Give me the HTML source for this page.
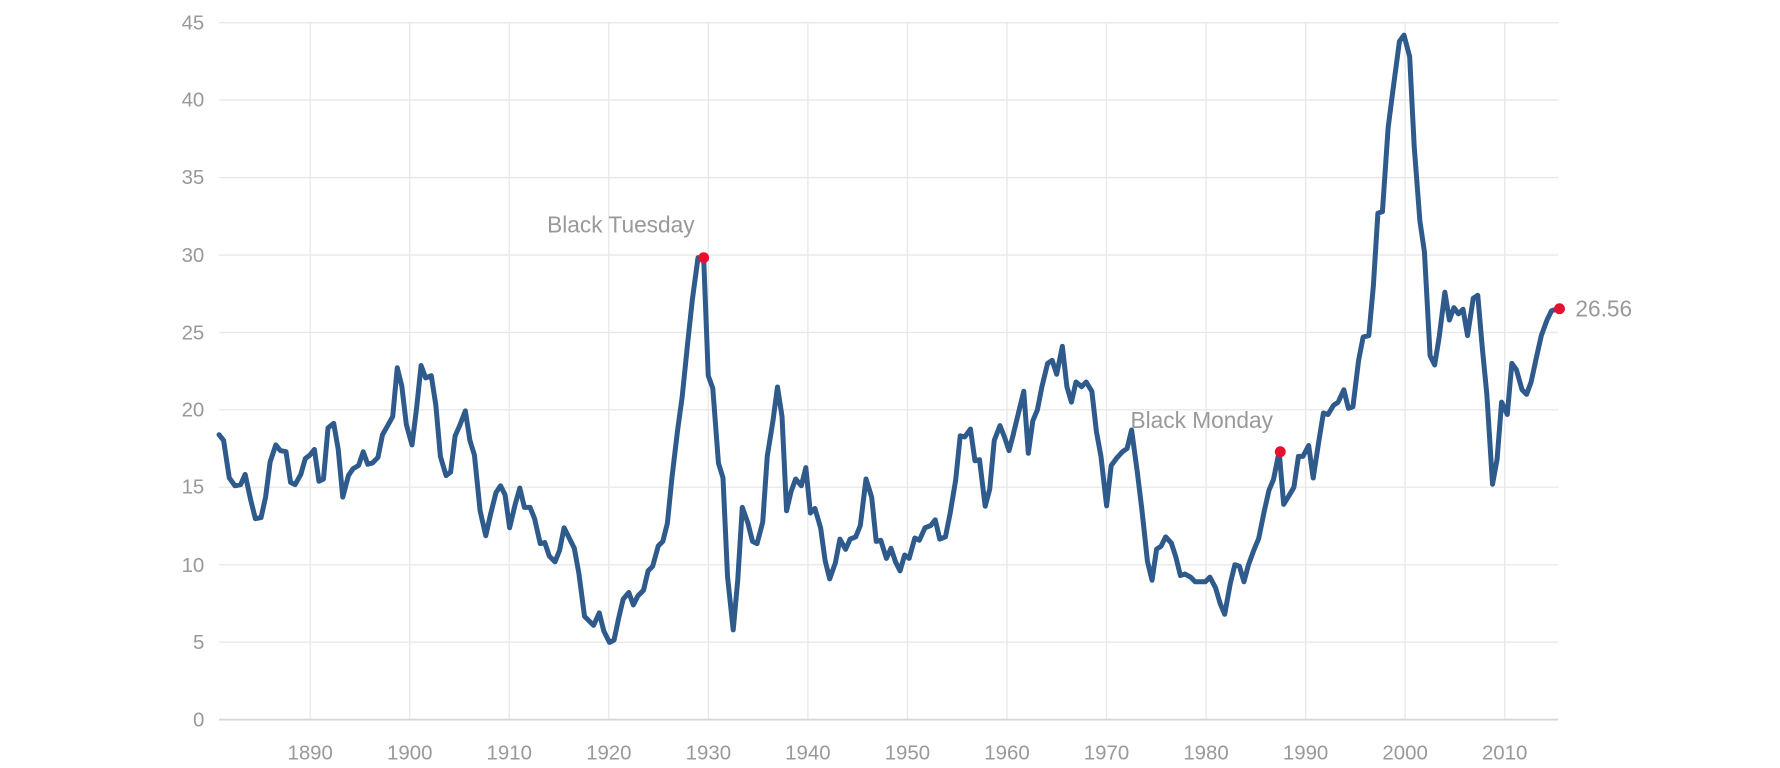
<!DOCTYPE html>
<html><head><meta charset="utf-8"><style>
html,body{margin:0;padding:0;background:#fff;}
svg{display:block;}
text{font-family:"Liberation Sans",sans-serif;fill:#999;}
</style></head><body>
<svg width="1780" height="768" viewBox="0 0 1780 768" xmlns="http://www.w3.org/2000/svg">
<g transform="scale(1.135)">
<g stroke="#e8e8e8" stroke-width="1.2">
<line x1="193" y1="20" x2="1373" y2="20"/>
<line x1="193" y1="88.2" x2="1373" y2="88.2"/>
<line x1="193" y1="156.4" x2="1373" y2="156.4"/>
<line x1="193" y1="224.7" x2="1373" y2="224.7"/>
<line x1="193" y1="292.9" x2="1373" y2="292.9"/>
<line x1="193" y1="361.1" x2="1373" y2="361.1"/>
<line x1="193" y1="429.3" x2="1373" y2="429.3"/>
<line x1="193" y1="497.6" x2="1373" y2="497.6"/>
<line x1="193" y1="565.8" x2="1373" y2="565.8"/>
<line x1="273.3" y1="20" x2="273.3" y2="634"/>
<line x1="361" y1="20" x2="361" y2="634"/>
<line x1="448.7" y1="20" x2="448.7" y2="634"/>
<line x1="536.4" y1="20" x2="536.4" y2="634"/>
<line x1="624.1" y1="20" x2="624.1" y2="634"/>
<line x1="711.8" y1="20" x2="711.8" y2="634"/>
<line x1="799.5" y1="20" x2="799.5" y2="634"/>
<line x1="887.2" y1="20" x2="887.2" y2="634"/>
<line x1="974.9" y1="20" x2="974.9" y2="634"/>
<line x1="1062.6" y1="20" x2="1062.6" y2="634"/>
<line x1="1150.3" y1="20" x2="1150.3" y2="634"/>
<line x1="1238" y1="20" x2="1238" y2="634"/>
<line x1="1325.7" y1="20" x2="1325.7" y2="634"/>
</g>
<line x1="193" y1="634" x2="1373" y2="634" stroke="#d6d6d6" stroke-width="1.5"/>
<g font-size="18" text-anchor="end">
<text x="180" y="26">45</text><text x="180" y="94">40</text><text x="180" y="162">35</text>
<text x="180" y="231">30</text><text x="180" y="299">25</text><text x="180" y="367">20</text>
<text x="180" y="435">15</text><text x="180" y="504">10</text><text x="180" y="572">5</text>
<text x="180" y="640">0</text>
</g>
<g font-size="18" text-anchor="middle">
<text x="273.3" y="669">1890</text><text x="361" y="669">1900</text><text x="448.7" y="669">1910</text>
<text x="536.4" y="669">1920</text><text x="624.1" y="669">1930</text><text x="711.8" y="669">1940</text>
<text x="799.5" y="669">1950</text><text x="887.2" y="669">1960</text><text x="974.9" y="669">1970</text>
<text x="1062.6" y="669">1980</text><text x="1150.3" y="669">1990</text><text x="1238" y="669">2000</text>
<text x="1325.7" y="669">2010</text>
</g>
<g fill="none" stroke="#2e5a8c" stroke-width="4.4" stroke-linejoin="round" stroke-linecap="round">
<polyline points="193,383 197,388 202,421 207,428 212,427 216,418 221,441 225,457 230,456 234,438 238,407 243,392 247,397 252,398 256,425 260,427 265,418 269,404 273,401 277,396 281,424 285,422 289,377 294,373 298,396 302,438 307,419 311,413 316,410 320,398 324,409 328,408 333,403 337,383 341,376 346,367 350,324 354,340 358,374 363,392 367,360 371,322 375,333 380,331 384,357 388,402 393,419 397,416 401,384 405,375 410,362 414,388 418,401 423,450 428,472 432,454 437,434 441,428 445,436 449,465 454,444 458,430 462,447 467,447 471,457 476,479 480,478 484,490 489,495 493,485 497,465 502,475 506,483 510,505 515,543 519,547 523,551 528,540 532,556 537,566 541,564 545,545 549,528 554,522 558,533 562,525 567,520 571,503 575,499 580,481 584,477 588,461 592,421 597,379 601,350 606,301 610,264 615,227 620,228 624,331 628,342 633,408 637,421 641,508 646,555 650,511 654,447 659,461 663,477 667,479 672,460 676,402 681,371 685,341 689,367 693,450 697,433 701,422 706,428 710,412 714,452 718,448 723,465 727,494 731,510 736,496 740,475 745,484 749,475 754,473 758,463 763,422 768,438 772,477 776,476 781,492 785,483 789,495 793,503 797,489 801,492 806,474 810,476 815,465 820,463 824,458 828,475 833,473 837,453 842,423 846,384 850,385 855,378 859,406 863,405 868,446 872,431 876,388 881,375 885,385 889,397 893,382"/>
</g>
<g transform="translate(0,634) scale(1,-13.644)">
<polyline fill="none" stroke="#2e5a8c" stroke-width="5" vector-effect="non-scaling-stroke" stroke-linejoin="round" stroke-linecap="round" points="893,18.5 898,20 902,21.2 906,17.2 910,19.3 914,20 918,21.5 923,23 927,23.2 931,22.3 936,24.1 940,21.5 944,20.5 948,21.8 953,21.5 957,21.8 962,21.2 966,18.6 970,17 975,13.8 979,16.4 984,16.9 989,17.3 993,17.5 997,18.7 1002,16 1006,13.6 1011,10.2 1015,9 1019,11 1023,11.2 1027,11.8 1032,11.4 1036,10.5 1040,9.3 1044,9.4 1049,9.2 1053,8.9 1058,8.9 1062,8.9 1066,9.2 1071,8.5 1075,7.5 1079,6.8 1084,8.8 1088,10 1092,9.9 1096,8.9 1100,10 1105,11 1109,11.7 1114,13.5 1118,14.8 1122,15.5 1127,17.3 1131,13.9 1136,14.5 1140,15 1144,17 1148,17 1153,17.7 1157,15.6 1162,18 1166,19.8 1170,19.7 1175,20.3 1179,20.5 1184,21.3 1188,20.1 1192,20.2 1197,23.2 1201,24.7 1206,24.8 1210,28 1214,32.7 1218,32.8 1223,38.2 1227,40.5 1233,43.8 1237,44.2 1242,42.8 1246,37 1251,32.2 1255,30.2 1260,23.5 1264,22.9 1268,24.7 1273,27.6 1277,25.8 1281,26.6 1285,26.2 1289,26.5 1293,24.8 1298,27.2 1302,27.4 1306,24 1310,21 1315,15.2 1319,16.8 1323,20.5 1328,19.7 1332,23 1336,22.6 1341,21.3 1345,21 1349,21.8 1354,23.5 1358,24.8 1363,25.8 1367,26.4 1374,26.56"/>
</g>
<circle cx="620" cy="227" r="4.8" fill="#e8112d"/>
<circle cx="1128" cy="398" r="4.8" fill="#e8112d"/>
<circle cx="1374" cy="272" r="4.8" fill="#e8112d"/>
<text x="482" y="205" font-size="20">Black Tuesday</text>
<text x="996" y="377" font-size="20">Black Monday</text>
<text x="1388" y="279" font-size="20">26.56</text>
</g>
</svg>
</body></html>
